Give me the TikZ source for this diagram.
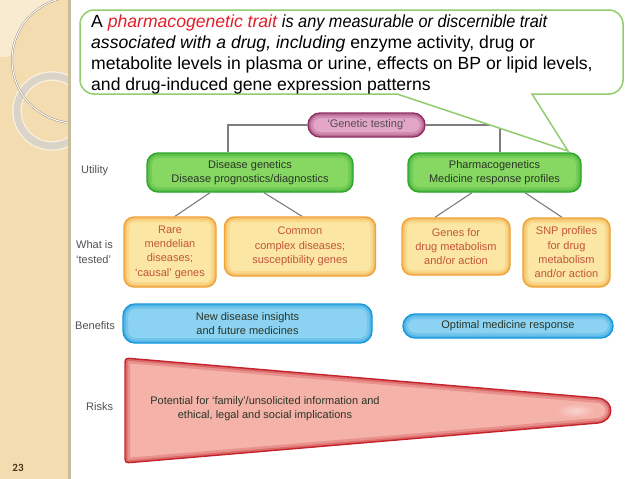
\documentclass[tikz,border=0pt]{standalone}
\usepackage{fontspec}
\usepackage{graphicx}
\setmainfont{Liberation Sans}
\newfontfamily\numfont{Carlito}
\usetikzlibrary{calc,backgrounds}
\definecolor{panel}{HTML}{F3DDB0}
\definecolor{panellight}{HTML}{F8EBCF}
\definecolor{sepc}{HTML}{C9BC9C}
\definecolor{ringc}{HTML}{DAD4C8}
\definecolor{circc}{HTML}{9E9484}
\definecolor{calg}{HTML}{92CC6E}
\definecolor{calred}{HTML}{E0202A}
\definecolor{gfill}{HTML}{86D862}
\definecolor{gdark}{HTML}{2FA52C}
\definecolor{gtext}{HTML}{2A3526}
\definecolor{ofill}{HTML}{FCE6A4}
\definecolor{odark}{HTML}{EFA236}
\definecolor{otext}{HTML}{C2553A}
\definecolor{bfill}{HTML}{8CD2F2}
\definecolor{bdark}{HTML}{1798DA}
\definecolor{pfill}{HTML}{E3A6C6}
\definecolor{pdark}{HTML}{8E2F62}
\definecolor{rfill}{HTML}{F4B2A9}
\definecolor{rdark}{HTML}{C4232B}
\definecolor{connc}{HTML}{7D7D7D}
\definecolor{labc}{HTML}{505050}
\definecolor{numc}{HTML}{4A3520}
\begin{document}
\begin{tikzpicture}[x=1pt,y=-1pt,
  conn/.style={draw=connc, line width=1.1pt},
  glowbox/.style n args={3}{fill=#1, draw=#2, line width=1.4pt, rounded corners=#3,
    path picture={
      \draw[#2, line width=10pt, opacity=.22, rounded corners=#3]
        (path picture bounding box.north west) rectangle (path picture bounding box.south east);
      \draw[#2, line width=5pt, opacity=.35, rounded corners=#3]
        (path picture bounding box.north west) rectangle (path picture bounding box.south east);}},
  dtxt/.style={font=\fontsize{11}{14.3}\selectfont, align=center, inner sep=0pt},
  gbox/.style={glowbox={gfill}{gdark}{11pt}, dtxt, text=gtext},
  obox/.style={glowbox={ofill}{odark}{10pt}, dtxt, text=otext},
  bbox/.style={glowbox={bfill}{bdark}{12pt}, dtxt, text=gtext},
  pbox/.style={glowbox={pfill}{pdark}{12pt}, dtxt, text=labc},
  lab/.style={font=\fontsize{11}{14.3}\selectfont, align=left, inner sep=0pt, text=labc, anchor=west},
  cline/.style={anchor=base west, inner sep=0pt, font=\fontsize{17.6}{21}\selectfont}
]
\useasboundingbox (0,0) rectangle (638,479);
\begin{pgfonlayer}{background}
\fill[white] (0,0) rectangle (638,479);
\fill[panel] (0,0) rectangle (68,479);
\begin{scope}
  \clip (0,0) rectangle (68,479);
  \begin{scope}
    \clip (0,0) circle (57);
    \fill[panellight] (0,0) rectangle (68,70);
    \fill[panel] (75,60) circle (63);
  \end{scope}
  \draw[white, line width=9.5pt, opacity=.6] (52,111) circle (35);
  \draw[ringc, line width=7pt] (52,111) circle (35);
  \draw[circc, line width=2pt] (75,60) circle (63);
  \draw[white, line width=1pt] (75,60) circle (63);
\end{scope}
\fill[sepc] (67.5,0) rectangle (70.5,479);
\end{pgfonlayer}

% callout
\draw[calg, line width=1.5pt, fill=white]
  (94,10) -- (609,10) arc (-90:0:14) -- (623,80) arc (0:90:14)
  -- (532,94) -- (568,151) -- (397,94) -- (94,94) arc (90:180:14)
  -- (80,24) arc (180:270:14) -- cycle;
\node[cline] (cl1) at (91,27.5)
  {A {\color{calred}\itshape pharmacogenetic trait} \scalebox{0.925}[1]{\itshape is any measurable or discernible trait}};
\node[cline] (cl2) at (91,48.3)
  {{\itshape associated with a drug, including} enzyme activity, drug or};
\node[cline] (cl3) at (91,69.1)
  {metabolite levels in plasma or urine, effects on BP or lipid levels,};
\node[cline] (cl4) at (91,90)
  {and drug-induced gene expression patterns};

% boxes
\node[pbox, minimum width=117pt, minimum height=24pt] (gt) at (366.5,125) {‘Genetic testing’};
\node[gbox, minimum width=206pt, minimum height=39pt] (dg) at (250,172.5) {Disease genetics\\Disease prognostics/diagnostics};
\node[gbox, minimum width=173pt, minimum height=39pt] (pg) at (494.5,172.5) {Pharmacogenetics\\Medicine response profiles};
\node[obox, minimum width=92pt, minimum height=70pt] (rare) at (170,252) {Rare\\mendelian\\diseases;\\‘causal’ genes};
\node[obox, minimum width=151pt, minimum height=59pt] (common) at (300,246.5) {Common\\complex diseases;\\susceptibility genes};
\node[obox, minimum width=108pt, minimum height=57pt] (genes) at (456,246.5) {Genes for\\drug metabolism\\and/or action};
\node[obox, minimum width=87pt, minimum height=69pt] (snp) at (566.5,252.5) {SNP profiles\\for drug\\metabolism\\and/or action};
\node[bbox, minimum width=249pt, minimum height=39pt] (ben1) at (247.5,323.5) {New disease insights\\and future medicines};
\node[bbox, minimum width=210pt, minimum height=24pt] (ben2) at (508,326) {Optimal medicine response};

% risk wedge
\def\riskpath{(125,410) -- (125,366) .. controls (125,358) and (125,358) .. (133,358.7)
  -- (598,398) .. controls (615,400) and (615,421) .. (598,423)
  -- (133,462.3) .. controls (125,463) and (125,463) .. (125,455) -- cycle}
\fill[rfill] \riskpath;
\begin{scope}
  \clip \riskpath;
  \shade[inner color=white!45!rfill, outer color=rfill] (576,410.5) ellipse (20pt and 7pt);
  \draw[rdark, line width=10pt, opacity=.22] \riskpath;
  \draw[rdark, line width=5pt, opacity=.35] \riskpath;
\end{scope}
\draw[rdark, line width=1.4pt] \riskpath;
\node[dtxt, text=gtext] (risktxt) at (265,409) {Potential for ‘family’/unsolicited information and\\ethical, legal and social implications};

% row labels
\node[lab] (lutil) at (81,171) {Utility};
\node[lab] (ltest) at (76,252) {What is\\‘tested’};
\node[lab] (lben) at (75,326) {Benefits};
\node[lab] (lrisk) at (86,407) {Risks};
\node[font=\numfont\bfseries\fontsize{11}{13}\selectfont, text=numc] (pnum) at (18,468) {23};

% connectors
\begin{pgfonlayer}{background}
\draw[conn] (gt.west) -| ($(dg.north)+(-22,0)$);
\draw[conn] (gt.east) -| ($(pg.north)+(5.5,0)$);
\draw[conn] ($(dg.south)+(-40,0)$) -- ($(rare.north)+(5,0)$);
\draw[conn] ($(dg.south)+(14,0)$) -- ($(common.north)+(2,0)$);
\draw[conn] ($(pg.south)+(-22.5,0)$) -- ($(genes.north)+(-21,0)$);
\draw[conn] ($(pg.south)+(30.5,0)$) -- ($(snp.north)+(-4.5,0)$);
\end{pgfonlayer}
\end{tikzpicture}
\end{document}
